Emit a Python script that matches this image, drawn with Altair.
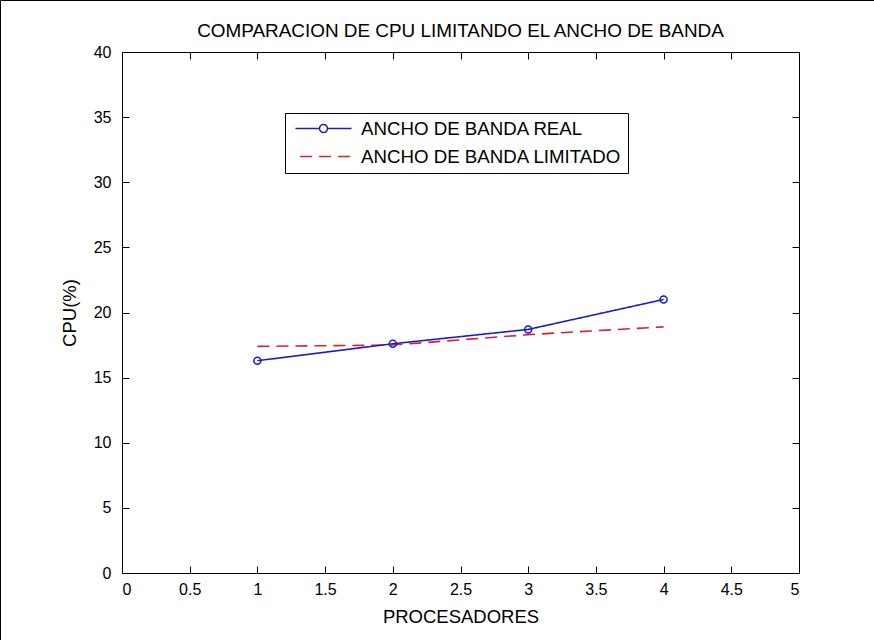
import altair as alt
import pandas as pd

# ---- data ----
procesadores = [1, 2, 3, 4]
cpu_real = [16.3, 17.6, 18.7, 21.0]
cpu_limitado = [17.4, 17.5, 18.3, 18.9]
series = ["ANCHO DE BANDA REAL", "ANCHO DE BANDA LIMITADO"]
x_ticks = [0, 0.5, 1, 1.5, 2, 2.5, 3, 3.5, 4, 4.5, 5]
y_ticks = [0, 5, 10, 15, 20, 25, 30, 35, 40]
chart_title = "COMPARACION DE CPU LIMITANDO EL ANCHO DE BANDA"
x_title = "PROCESADORES"
y_title = "CPU(%)"

# ---- layout / style ----
W, H = 677, 521
LEFT, TOP = 122, 52
FONT = "Liberation Sans"
BLUE = "#1c1cc4"
RED = "#dd2030"
TICK = 7

df = pd.DataFrame({
    "procesadores": procesadores + procesadores,
    "cpu": cpu_limitado + cpu_real,
    "serie": [series[1]] * len(procesadores) + [series[0]] * len(procesadores),
})

# legend symbol paths (units scaled by sqrt(symbolSize)/2)
REAL_PATH = ("M-3.3,0L-0.47,0M0.47,0L3.3,0"
             "M-0.47,0A0.47,0.47,0,1,0,0.47,0A0.47,0.47,0,1,0,-0.47,0")
LIM_PATH = "M-2.75,0L3.3,0"

x_scale = alt.Scale(domain=[0, 5], nice=False, zero=False)
y_scale = alt.Scale(domain=[0, 40], nice=False)
color_scale = alt.Scale(domain=series, range=[BLUE, RED])
dash_scale = alt.Scale(domain=series, range=[[1, 0], [12, 7]])
shape_scale = alt.Scale(domain=series, range=[REAL_PATH, LIM_PATH])

leg = alt.Legend(
    title=None, orient="none", legendX=163, legendY=61,
    strokeColor="black", fillColor="white", padding=6,
    symbolSize=289, symbolStrokeWidth=1.5, symbolOffset=23,
    symbolFillColor="transparent",
    labelOffset=28, labelFont=FONT, labelFontSize=18.7, labelColor="black",
    labelLimit=400, rowPadding=8,
)


def tick_axis(orient, values, offset):
    return alt.Axis(orient=orient, offset=offset, values=values, labels=False,
                    domain=False, grid=False, ticks=True, tickSize=TICK,
                    tickColor="black", tickWidth=1, title=None)


x_label_axis = alt.Axis(orient="bottom", values=x_ticks, format="~g", ticks=False,
                        domain=False, grid=False, labelFont=FONT, labelFontSize=16,
                        labelColor="black", labelPadding=8, title=x_title,
                        titleFont=FONT, titleFontSize=18.5, titleFontWeight="normal",
                        titleColor="black", titlePadding=10)
y_label_axis = alt.Axis(orient="left", values=y_ticks, format="~g", ticks=False,
                        domain=False, grid=False, labelFont=FONT, labelFontSize=16,
                        labelColor="black", labelPadding=11, title=y_title,
                        titleFont=FONT, titleFontSize=18.5, titleFontWeight="normal",
                        titleColor="black", titlePadding=14)

lines = alt.Chart(df).mark_line(strokeWidth=1.6, opacity=1).encode(
    x=alt.X("procesadores:Q", scale=x_scale, axis=x_label_axis),
    y=alt.Y("cpu:Q", scale=y_scale, axis=y_label_axis),
    color=alt.Color("serie:N", scale=color_scale, legend=leg),
    strokeDash=alt.StrokeDash("serie:N", scale=dash_scale, legend=leg),
    order=alt.Order("procesadores:Q"),
)

markers = alt.Chart(df).transform_filter(
    alt.datum.serie == series[0]
).mark_point(shape="circle", filled=False, size=50, strokeWidth=1.5, opacity=1).encode(
    x=alt.X("procesadores:Q", scale=x_scale, axis=tick_axis("top", x_ticks, -H)),
    y=alt.Y("cpu:Q", scale=y_scale, axis=tick_axis("right", y_ticks, -W)),
    color=alt.Color("serie:N", scale=color_scale, legend=leg),
)

legend_layer = alt.Chart(df).transform_filter("false").mark_point(
    filled=False, strokeWidth=1.5, opacity=1
).encode(
    x=alt.X("procesadores:Q", scale=x_scale, axis=tick_axis("bottom", x_ticks, -H)),
    y=alt.Y("cpu:Q", scale=y_scale, axis=tick_axis("left", y_ticks, -W)),
    color=alt.Color("serie:N", scale=color_scale, legend=leg),
    shape=alt.Shape("serie:N", scale=shape_scale, legend=leg),
)

frame_src = pd.DataFrame({"k": [0]})
frame_top = alt.Chart(frame_src).mark_rule(color="black", strokeWidth=1).encode(
    x=alt.value(-LEFT + 0.5), x2=alt.value(874 - LEFT), y=alt.value(-TOP + 0.5))
frame_left = alt.Chart(frame_src).mark_rule(color="black", strokeWidth=1).encode(
    x=alt.value(-LEFT + 0.5), y=alt.value(-TOP + 0.5), y2=alt.value(640 - TOP))

chart = alt.layer(lines, markers, legend_layer, frame_top, frame_left).resolve_axis(
    x="independent", y="independent"
).properties(
    width=W, height=H,
    autosize="none",
    padding={"left": LEFT, "top": TOP, "right": 874 - LEFT - W, "bottom": 640 - TOP - H},
    background="white",
    title=alt.TitleParams(chart_title, font=FONT, fontSize=18.9, fontWeight="normal",
                          color="black", anchor="middle", baseline="alphabetic",
                          offset=-56),
).configure_view(stroke="black", strokeWidth=1)

chart.save("out.html", embed_options={"renderer": "svg", "actions": False})
